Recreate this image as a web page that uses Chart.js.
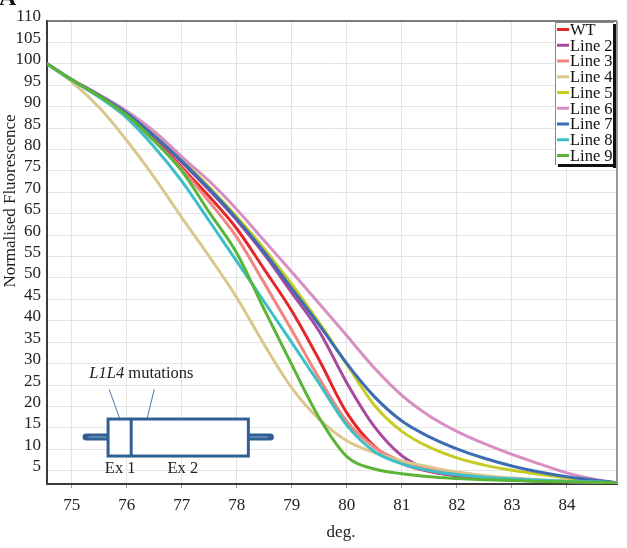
<!DOCTYPE html>
<html><head><meta charset="utf-8">
<script src="https://cdn.jsdelivr.net/npm/chart.js@4/dist/chart.umd.min.js"></script>
<style>html,body{margin:0;padding:0;background:#fff;}canvas{display:block;}</style>
</head><body>
<canvas id="c" width="627" height="548"></canvas>
<script>
// ---- data ----
const temps = [74.55,75,75.5,76,76.5,77,77.5,78,78.5,79,79.5,80,80.5,81,81.5,82,82.5,83,83.5,84,84.5,84.9];
const seriesNames = ['WT','Line 2','Line 3','Line 4','Line 5','Line 6','Line 7','Line 8','Line 9'];
const wt    = [100,96.3,92.4,88.2,82.5,75.8,69.0,61.5,52.0,42.3,30.8,18.5,10.7,6.7,4.8,3.9,3.3,3.0,2.7,2.5,2.4,2.2];
const line2 = [100,96.3,92.5,88.4,83.0,77.0,70.5,63.5,55.5,46.5,37.5,25.5,15.3,8.5,5.1,3.8,3.1,2.8,2.6,2.4,2.3,2.2];
const line3 = [100,96.3,92.3,87.9,82.0,75.4,67.8,59.5,48.8,37.8,26.5,16.5,10.5,7.2,5.3,4.3,3.6,3.1,2.8,2.6,2.4,2.2];
const line4 = [100,95.8,89.8,82.1,73.5,64.1,55.0,45.4,34.4,24.3,17.0,12.0,9.2,7.3,5.9,4.7,3.9,3.3,2.9,2.6,2.4,2.2];
const line5 = [100,96.3,92.6,88.6,83.4,77.6,71.2,64.3,56.8,48.5,39.5,29.8,20.3,14.2,10.5,8.0,6.3,5.1,4.2,3.3,2.6,2.2];
const line6 = [100,96.4,92.8,89.0,84.2,78.3,72.6,66.0,58.7,51.4,44.0,36.5,29.0,22.6,17.8,14.2,11.3,8.8,6.6,4.5,3.0,2.2];
const line7 = [100,96.3,92.6,88.5,83.2,77.3,70.8,63.8,56.0,47.5,39.0,30.0,22.3,16.6,12.9,10.1,7.9,6.1,4.7,3.6,2.8,2.2];
const line8 = [100,96.2,92.2,87.4,80.6,72.6,63.3,53.9,44.4,34.9,25.3,15.6,9.5,6.6,5.0,4.1,3.5,3.1,2.8,2.5,2.4,2.2];
const line9 = [100,96.3,92.4,88.0,82.0,75.0,65.3,55.8,42.6,29.7,17.3,8.3,5.4,4.3,3.6,3.2,2.9,2.7,2.5,2.4,2.3,2.2];
const xTickValues = [75,76,77,78,79,80,81,82,83,84];
const yTickValues = [5,10,15,20,25,30,35,40,45,50,55,60,65,70,75,80,85,90,95,100,105,110];
const xTitle = 'deg.';
const yTitle = 'Normalised Fluorescence';
const insetLabelItalic = 'L1L4';
const insetLabelRest = ' mutations';
const exonLabels = ['Ex 1','Ex 2'];
const panelLetter = 'A';

// ---- styles ----
const allValues = [wt,line2,line3,line4,line5,line6,line7,line8,line9];
const colors = ['#e5262b','#a9489f','#f0877f','#dcc58f','#c6cc22','#d68fc0','#3b6cb4','#3cbfc8','#5ab537'];
const SERIF = "'Liberation Serif','Times New Roman',serif";
Chart.defaults.font.family = SERIF;
Chart.defaults.color = '#222';

const datasets = seriesNames.map((n,i)=>({
  label:n,
  data: temps.map((t,j)=>({x:t,y:allValues[i][j]})),
  borderColor: colors[i], backgroundColor: colors[i],
  borderWidth: 3, pointRadius: 0, fill:false,
  cubicInterpolationMode:'monotone',
  order: 9-i
}));

// inset geometry in data units
const inset = {
  box:[75.66,78.21,17.07,8.43], divider:76.08,
  stubY:12.87, stubL:75.26, stubR:78.61,
  pointers:[[75.68,24.0,75.87,17.23],[76.5,24.0,76.37,17.23]],
  label:[75.32,27.74], ex1:[75.88,5.4], ex2:[77.02,5.4]
};

const decor = {
  id:'decor',
  afterDraw(chart){
    const ctx = chart.ctx, ca = chart.chartArea;
    const xs = chart.scales.x, ys = chart.scales.y;
    const X = v=>xs.getPixelForValue(v), Y = v=>ys.getPixelForValue(v);
    ctx.save();
    // frame top & right
    ctx.lineWidth = 1.5; ctx.strokeStyle = '#555';
    ctx.beginPath(); ctx.moveTo(ca.left, ca.top); ctx.lineTo(ca.right, ca.top); ctx.stroke();
    ctx.lineWidth = 2; ctx.strokeStyle = '#9a9a9a';
    ctx.beginPath(); ctx.moveTo(ca.right, ca.top); ctx.lineTo(ca.right, ca.bottom); ctx.stroke();

    // legend
    const lx = ca.right - 62, ly = ca.top + 1, lw = 61, lh = 143;
    ctx.fillStyle = '#fff'; ctx.fillRect(lx, ly, lw, lh);
    ctx.fillStyle = '#111';
    ctx.fillRect(lx + lw - 3, ly + 2, 3, lh + 1);
    ctx.fillRect(lx + 3, ly + lh - 1, lw - 3, 3);
    ctx.strokeStyle = '#888'; ctx.lineWidth = 1;
    ctx.beginPath(); ctx.moveTo(lx+0.5, ly+lh); ctx.lineTo(lx+0.5, ly+0.5); ctx.lineTo(lx+lw-2, ly+0.5); ctx.stroke();
    ctx.font = '16.5px ' + SERIF; ctx.textBaseline = 'middle'; ctx.textAlign = 'left';
    chart.data.datasets.forEach((d,i)=>{
      const yy = ly + 7.5 + i*15.75;
      ctx.strokeStyle = d.borderColor; ctx.lineWidth = 3;
      ctx.beginPath(); ctx.moveTo(lx+2, yy); ctx.lineTo(lx+14, yy); ctx.stroke();
      ctx.fillStyle = '#111'; ctx.fillText(d.label, lx+15, yy+1);
    });

    // inset gene diagram
    const blue = '#2f5f93';
    ctx.lineCap = 'round';
    ctx.strokeStyle = blue; ctx.lineWidth = 7;
    ctx.beginPath(); ctx.moveTo(X(inset.stubL), Y(inset.stubY)); ctx.lineTo(X(inset.box[0]), Y(inset.stubY)); ctx.stroke();
    ctx.beginPath(); ctx.moveTo(X(inset.box[1]), Y(inset.stubY)); ctx.lineTo(X(inset.stubR), Y(inset.stubY)); ctx.stroke();
    ctx.strokeStyle = '#8aaad0'; ctx.lineWidth = 1.2;
    ctx.beginPath(); ctx.moveTo(X(inset.stubL)+3, Y(inset.stubY)); ctx.lineTo(X(inset.box[0])-2, Y(inset.stubY)); ctx.stroke();
    ctx.beginPath(); ctx.moveTo(X(inset.box[1])+2, Y(inset.stubY)); ctx.lineTo(X(inset.stubR)-3, Y(inset.stubY)); ctx.stroke();
    ctx.lineCap = 'butt';
    ctx.fillStyle = '#fff';
    const bx0 = X(inset.box[0]), bx1 = X(inset.box[1]), by0 = Y(inset.box[2]), by1 = Y(inset.box[3]);
    ctx.fillRect(bx0, by0, bx1-bx0, by1-by0);
    ctx.strokeStyle = blue; ctx.lineWidth = 3;
    ctx.strokeRect(bx0, by0, bx1-bx0, by1-by0);
    ctx.beginPath(); ctx.moveTo(X(inset.divider), by0); ctx.lineTo(X(inset.divider), by1); ctx.stroke();
    ctx.strokeStyle = '#4a78a8'; ctx.lineWidth = 1;
    inset.pointers.forEach(p=>{ ctx.beginPath(); ctx.moveTo(X(p[0]),Y(p[1])); ctx.lineTo(X(p[2]),Y(p[3])); ctx.stroke(); });
    ctx.fillStyle = '#222'; ctx.textBaseline = 'middle'; ctx.textAlign = 'left';
    ctx.font = 'italic 16.5px ' + SERIF;
    const tx = X(inset.label[0]), ty = Y(inset.label[1]);
    ctx.fillText(insetLabelItalic, tx, ty);
    const w1 = ctx.measureText(insetLabelItalic).width;
    ctx.font = '16.5px ' + SERIF;
    ctx.fillText(insetLabelRest, tx + w1, ty);
    ctx.textAlign = 'center';
    ctx.fillText(exonLabels[0], X(inset.ex1[0]), Y(inset.ex1[1]));
    ctx.fillText(exonLabels[1], X(inset.ex2[0]), Y(inset.ex2[1]));

    // axis titles
    ctx.font = '17px ' + SERIF; ctx.fillStyle = '#222';
    ctx.textAlign = 'center'; ctx.textBaseline = 'middle';
    ctx.fillText(xTitle, 341, 533);
    ctx.save(); ctx.translate(11, 201); ctx.rotate(-Math.PI/2);
    ctx.fillText(yTitle, 0, 0); ctx.restore();

    // panel letter (cropped at top)
    ctx.font = 'bold 24px ' + SERIF; ctx.textAlign = 'left'; ctx.textBaseline = 'alphabetic';
    ctx.fillStyle = '#111'; ctx.fillText(panelLetter, -1, 5);
    ctx.restore();
  }
};

new Chart(document.getElementById('c'), {
  type:'line',
  data:{datasets},
  options:{
    responsive:false, animation:false,
    layout:{padding:{top:21,right:10,left:0,bottom:0}},
    plugins:{legend:{display:false}, tooltip:{enabled:false}},
    scales:{
      x:{type:'linear', min:74.55, max:84.91,
        afterBuildTicks:s=>{s.ticks = xTickValues.map(v=>({value:v}));},
        afterFit:s=>{s.height = 64;},
        ticks:{font:{size:17}, color:'#222', padding:7, maxRotation:0, autoSkip:false},
        grid:{color:'#e4e4e4', lineWidth:1, tickLength:4, tickColor:'#999'},
        border:{display:true, color:'#3a3a3a', width:2}
      },
      y:{type:'linear', min:1.9, max:110,
        afterBuildTicks:s=>{s.ticks = yTickValues.map(v=>({value:v}));},
        afterFit:s=>{s.width = 47;},
        ticks:{font:{size:17}, color:'#222', padding:6, labelOffset:-4, autoSkip:false},
        grid:{color:'#e4e4e4', lineWidth:1, drawTicks:false},
        border:{display:true, color:'#3a3a3a', width:2}
      }
    }
  },
  plugins:[decor]
});
</script>
</body></html>
